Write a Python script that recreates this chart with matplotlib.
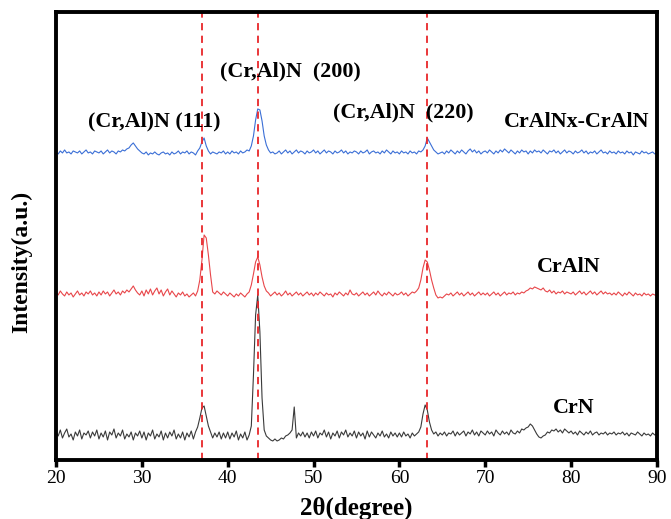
import numpy as np
import matplotlib
matplotlib.use('Agg')
import matplotlib.pyplot as plt

plt.rcParams['font.family'] = ['Liberation Serif', 'DejaVu Serif']

# 2theta grid, 0.25 degree steps from 20 to 90
two_theta = np.arange(281) * 0.25 + 20

# CrAlNx-CrAlN (blue, already offset)
crainx_crain = [
    308, 306, 309, 307, 310, 307, 308, 306, 309, 308, 307, 309, 306, 308, 310, 307, 308, 306, 309, 308,
    307, 309, 306, 308, 310, 307, 309, 308, 306, 309, 308, 310, 309, 311, 312, 315, 317, 314, 311, 309,
    307, 306, 308, 305, 307, 306, 308, 306, 305, 307, 308, 306, 307, 305, 308, 306, 307, 309, 306, 308,
    307, 309, 306, 308, 307, 305, 309, 312, 318, 322, 314, 309, 306, 308, 307, 306, 308, 307, 309, 306,
    308, 306, 309, 307, 308, 306, 309, 307, 308, 310, 309, 314, 324, 340, 351, 350, 339, 324, 315, 310,
    307, 308, 306, 307, 309, 306, 308, 310, 307, 309, 306, 308, 310, 307, 309, 308, 306, 309, 307, 308,
    310, 307, 309, 306, 308, 310, 307, 309, 308, 306, 309, 307, 308, 310, 307, 309, 306, 308, 307, 309,
    308, 306, 309, 307, 308, 310, 306, 308, 309, 307, 308, 306, 309, 307, 310, 308, 306, 309, 307, 308,
    306, 309, 307, 308, 306, 309, 307, 308, 306, 309, 308, 310, 314, 322, 318, 314, 310, 308, 306, 307,
    308, 306, 309, 307, 310, 308, 306, 309, 307, 310, 308, 306, 309, 311, 308, 310, 307, 309, 306, 308,
    309, 307, 310, 308, 306, 309, 307, 310, 308, 311, 309, 307, 310, 308, 306, 309, 307, 310, 308, 309,
    306, 309, 307, 310, 308, 309, 307, 310, 308, 306, 309, 308, 310, 307, 309, 306, 308, 310, 307, 309,
    308, 306, 309, 307, 308, 310, 307, 309, 306, 308, 307, 309, 306, 308, 310, 307, 308, 306, 309, 307,
    308, 306, 309, 307, 308, 306, 309, 307, 308, 305, 308, 307, 306, 309, 307, 308, 306, 307, 308, 306,
    307,
]

# CrAlN (red)
crain = [
    168, 165, 169, 166, 164, 168, 165, 167, 163, 166, 169, 165, 167, 164, 168, 166, 169, 165, 167, 164,
    168, 165, 169, 166, 168, 164, 167, 170, 166, 168, 165, 169, 167, 170, 168, 171, 174, 170, 167, 165,
    169, 164, 170, 166, 171, 165, 169, 172, 166, 170, 164, 168, 171, 165, 169, 166, 163, 167, 165, 168,
    164, 166, 163, 165, 167, 164, 169, 180, 200, 225, 222, 205, 185, 168, 166, 169, 167, 165, 168, 166,
    164, 167, 165, 163, 166, 164, 167, 165, 163, 166, 168, 175, 186, 198, 203, 195, 183, 174, 169, 167,
    164, 166, 168, 165, 167, 164, 166, 169, 165, 167, 164, 166, 168, 165, 167, 164, 166, 168, 165, 167,
    164, 167, 165, 168, 166, 164, 167, 165, 166, 163, 167, 165, 168, 166, 164, 167, 165, 170, 166, 165,
    167, 164, 166, 168, 165, 167, 164, 166, 168, 165, 169, 166, 164, 167, 165, 168, 166, 164, 167, 165,
    166, 168, 165, 167, 164, 166, 168, 167, 169, 172, 180, 192, 200, 198, 190, 180, 172, 165, 162, 163,
    162, 164, 166, 165, 167, 164, 166, 168, 165, 167, 164, 166, 168, 165, 167, 164, 166, 168, 165, 167,
    165, 167, 164, 166, 168, 165, 167, 164, 166, 168, 165, 167, 166, 168, 165, 167, 166, 168, 167, 169,
    170, 172, 171, 173, 172, 171, 170, 172, 169, 168, 170, 167, 169, 166, 168, 167, 169, 166, 168, 167,
    166, 168, 165, 167, 169, 166, 168, 165, 167, 169, 166, 168, 165, 167, 169, 166, 168, 166, 167, 165,
    167, 165, 168, 166, 164, 167, 165, 168, 166, 164, 167, 165, 166, 164, 167, 165, 166, 164, 166, 165,
    164,
]

# CrN (black)
crn = [
    28, 24, 30, 22, 27, 31, 23, 26, 20, 28, 24, 30, 21, 27, 25, 29, 22, 28, 24, 30,
    21, 27, 23, 29, 20, 28, 25, 31, 22, 27, 24, 30, 21, 26, 23, 28, 20, 27, 24, 29,
    22, 28, 20, 27, 24, 30, 21, 26, 23, 29, 20, 27, 22, 28, 24, 30, 21, 26, 22, 28,
    20, 27, 23, 29, 21, 28, 33, 42, 52, 54, 44, 34, 28, 22, 27, 23, 28, 21, 27, 22,
    28, 21, 27, 23, 29, 20, 26, 22, 28, 20, 25, 34, 85, 145, 165, 128, 62, 30, 24, 22,
    20, 19, 21, 19, 20, 22, 21, 24, 25, 27, 30, 53, 22, 27, 24, 28, 23, 27, 22, 28,
    24, 29, 22, 27, 25, 30, 23, 28, 21, 27, 24, 29, 22, 28, 25, 30, 23, 27, 24, 29,
    22, 28, 24, 27, 21, 29, 23, 28, 25, 22, 27, 24, 29, 23, 26, 22, 28, 24, 27, 23,
    27, 23, 28, 24, 26, 22, 27, 24, 26, 28, 33, 46, 55, 50, 38, 30, 26, 28, 24, 27,
    25, 28, 24, 27, 26, 29, 24, 28, 25, 27, 29, 24, 28, 26, 30, 25, 28, 24, 29, 27,
    25, 29, 26, 28, 24, 30, 27, 25, 29, 26, 28, 25, 30, 27, 26, 29, 27, 31, 30, 32,
    33, 36, 34, 30, 26, 23, 22, 24, 25, 28, 27, 30, 29, 31, 28, 30, 27, 31, 29, 27,
    29, 26, 28, 25, 29, 27, 25, 28, 26, 29, 25, 27, 28, 25, 27, 26, 28, 25, 27, 26,
    28, 25, 27, 26, 28, 25, 27, 24, 27, 26, 25, 28, 26, 24, 27, 25, 26, 24, 27, 25,
    26,
]

peak_positions = [37.0, 43.5, 63.2]

fig = plt.figure(figsize=(6.71, 5.19), dpi=100)
ax = fig.add_axes([0.0835, 0.1137, 0.8955, 0.8633])

ax.plot(two_theta, crn, color='#3a3a3a', lw=0.8)
ax.plot(two_theta, crain, color='#e8464a', lw=0.8)
ax.plot(two_theta, crainx_crain, color='#3b6fd6', lw=0.8)

for p in peak_positions:
    ax.axvline(p, color='#e8262a', ls=(0, (4, 3)), lw=1.3)

fs = 15.8
ax.text(23.7, 338, '(Cr,Al)N (111)', fontsize=fs, fontweight='bold', va='center')
ax.text(39.1, 388, '(Cr,Al)N  (200)', fontsize=fs, fontweight='bold', va='center')
ax.text(52.3, 347, '(Cr,Al)N  (220)', fontsize=fs, fontweight='bold', va='center')
ax.text(72.2, 338, 'CrAlNx-CrAlN', fontsize=fs, fontweight='bold', va='center')
ax.text(76.0, 193, 'CrAlN', fontsize=fs, fontweight='bold', va='center')
ax.text(77.9, 52, 'CrN', fontsize=fs, fontweight='bold', va='center')

ax.set_xlim(20, 90)
ax.set_ylim(0, 448)
ax.set_xticks(range(20, 91, 10))
ax.set_yticks([])
ax.tick_params(axis='x', direction='out', length=5, width=2.5, labelsize=14, pad=2)
for s in ax.spines.values():
    s.set_linewidth(2.8)

ax.set_xlabel('2θ(degree)', fontsize=18, fontweight='bold', labelpad=7)
ax.set_ylabel('Intensity(a.u.)', fontsize=17, fontweight='bold')
ax.yaxis.set_label_coords(-0.04, 0.442)

fig.savefig('out.png', dpi=100)
